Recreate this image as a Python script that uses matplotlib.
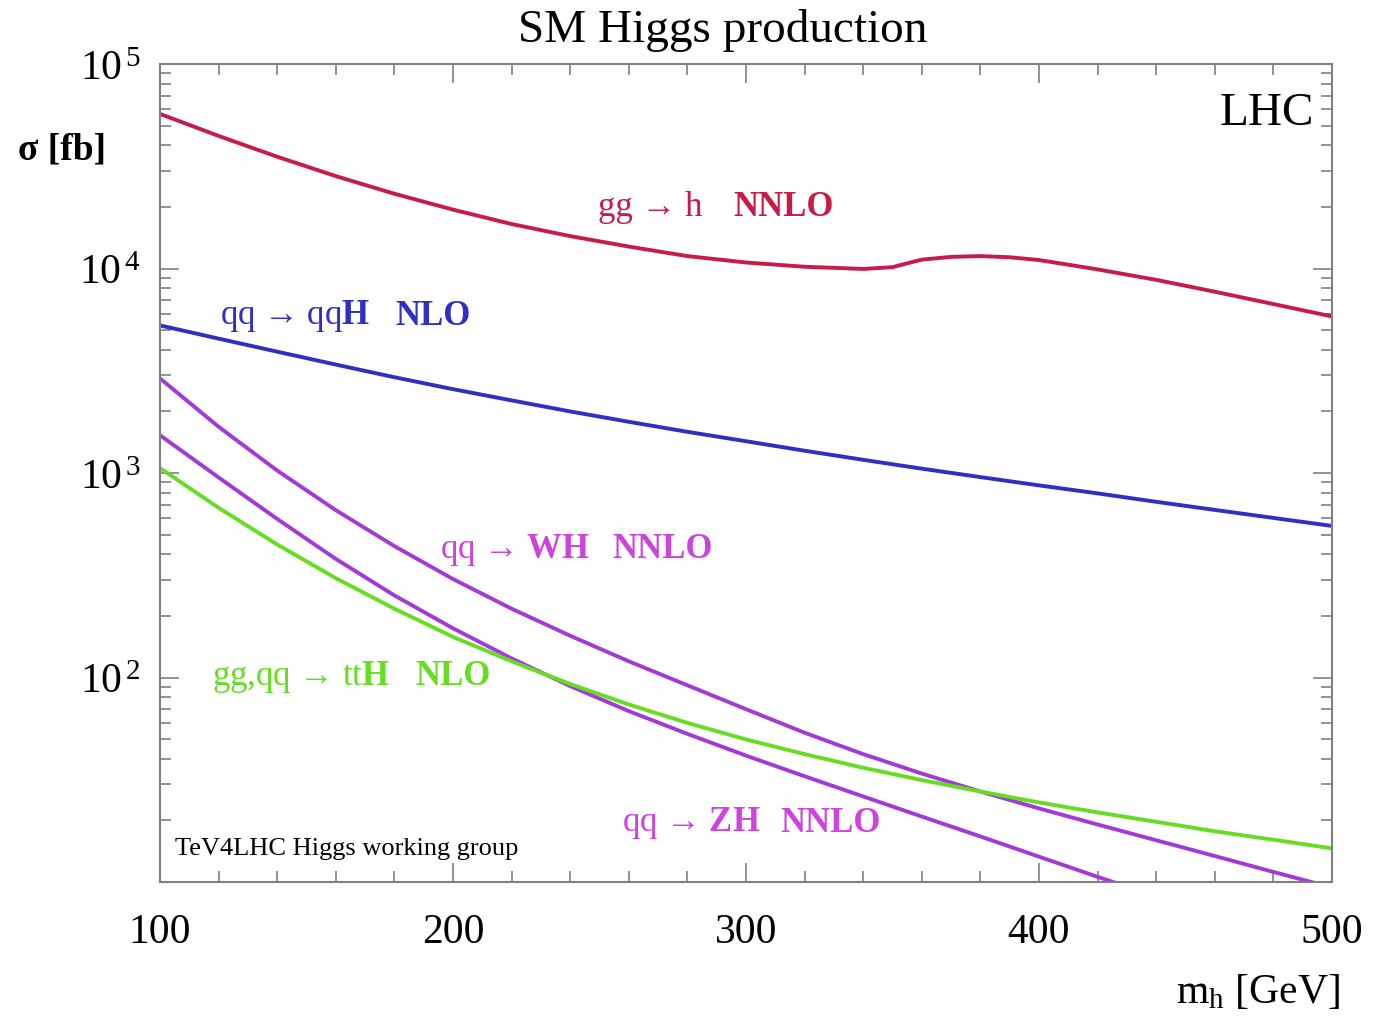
import matplotlib
matplotlib.use("Agg")
import matplotlib.pyplot as plt
from matplotlib.ticker import FixedLocator, LogLocator, NullFormatter, MultipleLocator
import numpy as np

plt.rcParams["font.family"] = ["Liberation Serif", "DejaVu Serif"]
plt.rcParams["mathtext.fontset"] = "custom"
plt.rcParams["mathtext.rm"] = "Liberation Serif"
plt.rcParams["mathtext.it"] = "Liberation Serif:italic"
plt.rcParams["mathtext.bf"] = "Liberation Serif:bold"

# Higgs mass grid [GeV]
mh = [100, 120, 140, 160, 180, 200, 220, 240, 260, 280, 300, 320, 340,
      360, 380, 400, 420, 440, 460, 480, 500]
mh_ggh = [100, 120, 140, 160, 180, 200, 220, 240, 260, 280, 300, 320, 340,
          350, 355, 360, 370, 380, 390, 400, 420, 440, 460, 480, 500]
mh_zh = [100, 120, 140, 160, 180, 200, 220, 240, 260, 280, 300, 320, 340,
         360, 380, 400, 420, 430]

# cross sections [fb]
sigma_ggh = [57000, 44500, 35200, 28300, 23200, 19400, 16500, 14400, 12800,
             11500, 10700, 10200, 9950, 10150, 10600, 11050, 11400, 11500,
             11350, 11000, 9900, 8800, 7700, 6700, 5830]
sigma_qqh = [5270, 4540, 3920, 3390, 2940, 2570, 2265, 2000, 1780, 1590,
             1430, 1285, 1160, 1050, 955, 870, 795, 723, 660, 603, 551]
sigma_wh = [2900, 1683, 1028, 658, 439, 303, 217, 160, 120, 91.6, 70.0,
            53.7, 42.2, 33.9, 27.7, 22.9, 19.1, 16.0, 13.4, 11.2, 9.4]
sigma_tth = [1057, 676, 447, 306, 217, 158, 120, 92.9, 73.8, 60.0, 49.8,
             42.2, 36.2, 31.5, 27.7, 24.5, 21.9, 19.7, 17.7, 16.1, 14.6]
sigma_zh = [1530, 951, 596, 380, 252, 174, 124, 90.8, 68.5, 53.0, 41.5,
            32.9, 26.2, 20.9, 16.7, 13.3, 10.6, 9.5]

c_red = "#c81c48"
c_blue = "#2f2fc4"
c_mag = "#a23ad6"
c_mag_txt = "#cc44dd"
c_green = "#66dd22"

fig = plt.figure(figsize=(13.8, 10.2), dpi=100)
ax = fig.add_axes([160/1380, 1-883/1020, (1332-160)/1380, (883-65)/1020])

lw = 2.8
ax.plot(mh_ggh, sigma_ggh, color=c_red, lw=lw)
ax.plot(mh, sigma_qqh, color=c_blue, lw=lw)
ax.plot(mh, sigma_wh, color=c_mag, lw=lw)
ax.plot(mh_zh, sigma_zh, color=c_mag, lw=lw)
ax.plot(mh, sigma_tth, color=c_green, lw=lw)

ax.set_yscale("log")
ax.set_xlim(100, 500)
ax.set_ylim(10, 1e5)

# ticks
for s in ax.spines.values():
    s.set_color("#808080")
    s.set_linewidth(1.5)
ax.xaxis.set_major_locator(MultipleLocator(100))
ax.xaxis.set_minor_locator(MultipleLocator(20))
ax.yaxis.set_major_locator(FixedLocator([1e2, 1e3, 1e4, 1e5]))
ax.yaxis.set_minor_locator(LogLocator(base=10, subs=np.arange(2, 10)))
ax.yaxis.set_minor_formatter(NullFormatter())
ax.set_yticklabels([r"$\mathregular{10^{\,%d}}$" % e for e in [2, 3, 4, 5]])
ax.tick_params(which="both", direction="in", top=True, right=True,
               color="#808080", labelsize=30, width=1.2)
ax.tick_params(which="major", length=14)
ax.tick_params(which="minor", length=8)
ax.tick_params(axis="x", pad=22)
ax.tick_params(axis="y", pad=14)

# curve labels: process in regular, order in bold
def lab(x1, x2, y, proc, order, color, size=25):
    ax.text(x1, y, proc, color=color, fontsize=size, va="center", ha="left")
    ax.text(x2, y, order, color=color, fontsize=size, va="center", ha="left",
            fontweight="bold")

lab(249.5, 295.6, 20000, "gg → h", "NNLO", c_red)
lab(120.5, 180.2, 5900, r"qq → qq$\mathbf{H}$", "NLO", c_blue)
lab(195.6, 254.3, 425, r"qq → $\mathbf{WH}$", "NNLO", c_mag_txt)
lab(117.7, 187.0, 102, r"gg,qq → tt$\mathbf{H}$", "NLO", c_green)
lab(257.7, 311.6, 19.6, r"qq → $\mathbf{ZH}$", "NNLO", c_mag_txt)

ax.text(105.1, 14.7, "TeV4LHC Higgs working group", fontsize=19,
        va="center", ha="left")
ax.text(0.985, 0.94, "LHC", transform=ax.transAxes, fontsize=34,
        ha="right", va="center")

fig.text(723/1380, 1-30/1020, "SM Higgs production", fontsize=34,
         ha="center", va="center")
fig.text(62/1380, 1-150/1020, "σ [fb]", fontsize=27, fontweight="bold",
         ha="center", va="center")
fig.text(1340/1380, 1-993/1020, r"$\mathregular{m_h}$ [GeV]", fontsize=30,
         ha="right", va="center")

fig.savefig("out.png", dpi=100)
